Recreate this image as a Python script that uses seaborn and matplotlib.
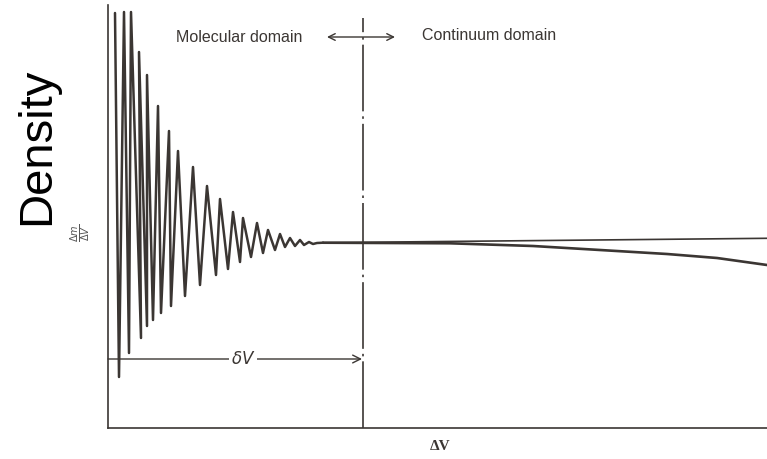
import matplotlib
matplotlib.use("Agg")
import matplotlib.pyplot as plt
import pandas as pd
import seaborn as sns

# zigzag vertices of the molecular domain (arbitrary units)
osc_x = [7, 11, 16, 21, 23, 33, 31, 39, 39, 45, 50, 53, 61, 63, 70, 77, 85, 92, 99, 108,
         112, 120, 125, 132, 135, 143, 149, 155, 160, 167, 172, 177, 182, 187, 192, 196,
         201, 205, 209, 215]
osc_y = [415, 51, 416, 75, 416, 90, 376, 102, 353, 108, 322, 115, 297, 122, 277, 132, 261, 143, 242, 153,
         229, 159, 216, 166, 210, 171, 205, 175, 198, 178, 194, 181, 190, 182, 188, 183,
         186, 184, 185, 185.3]

# continuum domain: straight reference line and the real (falling) curve
flat_x = [215, 659]
flat_y = [185.3, 189.7]
curve_x = [215, 342, 425, 492, 559, 609, 659]
curve_y = [185.3, 184.7, 182, 178, 174, 170, 163]

delta_v = 255      # position of the dash-dot boundary
arrow_y = 69

sns.set_style('white')
plt.rcParams['font.family'] = ['Liberation Sans', 'DejaVu Sans']

ink = '#3b3633'
fig = plt.figure(figsize=(7.67, 4.59), dpi=100)
ax = fig.add_axes([108 / 767, 31 / 459, 659 / 767, 423 / 459])

df_osc = pd.DataFrame({'x': osc_x, 'y': osc_y})
sns.lineplot(data=df_osc, x='x', y='y', sort=False, estimator=None, color=ink, lw=1.8, ax=ax)
sns.lineplot(x=flat_x, y=flat_y, sort=False, estimator=None, color=ink, lw=1.2, ax=ax)
sns.lineplot(x=curve_x, y=curve_y, sort=False, estimator=None, color=ink, lw=1.9, ax=ax)

ax.plot([delta_v, delta_v], [0, 410], color=ink, lw=1.2, linestyle=(0, (40, 3, 1.5, 3)))

ax.set_xlim(0, 659)
ax.set_ylim(0, 423)
ax.set_xticks([])
ax.set_yticks([])
ax.set_xlabel('')
ax.set_ylabel('')
for s in ['top', 'right']:
    ax.spines[s].set_visible(False)
for s in ['left', 'bottom']:
    ax.spines[s].set_color(ink)
    ax.spines[s].set_linewidth(1.2)

# delta V arrow
ax.annotate('', xy=(delta_v - 1, arrow_y), xytext=(0, arrow_y),
            arrowprops=dict(arrowstyle='->', color=ink, lw=1.0, mutation_scale=14,
                            shrinkA=0, shrinkB=0))
ax.text(135, arrow_y, r'$\delta V$', ha='center', va='center', fontsize=12, color=ink,
        bbox=dict(fc='white', ec='none', pad=1))

# domain labels
ax.annotate('', xy=(287, 391), xytext=(219, 391),
            arrowprops=dict(arrowstyle='<->', color=ink, lw=1.0, mutation_scale=12,
                            shrinkA=0, shrinkB=0))
ax.text(131, 390, 'Molecular domain', ha='center', va='center', fontsize=11.5, color=ink)
ax.text(381, 392, 'Continuum domain', ha='center', va='center', fontsize=11.5, color=ink)

ax.text(332, -19, 'ΔV', ha='center', va='center', fontsize=11, color=ink,
        family='Liberation Serif', weight='bold', clip_on=False)
ax.text(-71, 282, 'Density', ha='center', va='center', rotation=90, fontsize=34,
        color='black', clip_on=False)
ax.text(-27, 195, r'$\frac{\Delta m}{\Delta V}$', ha='center', va='center', rotation=90,
        fontsize=10, color='#555555', clip_on=False)

fig.savefig('out.png', dpi=100)
